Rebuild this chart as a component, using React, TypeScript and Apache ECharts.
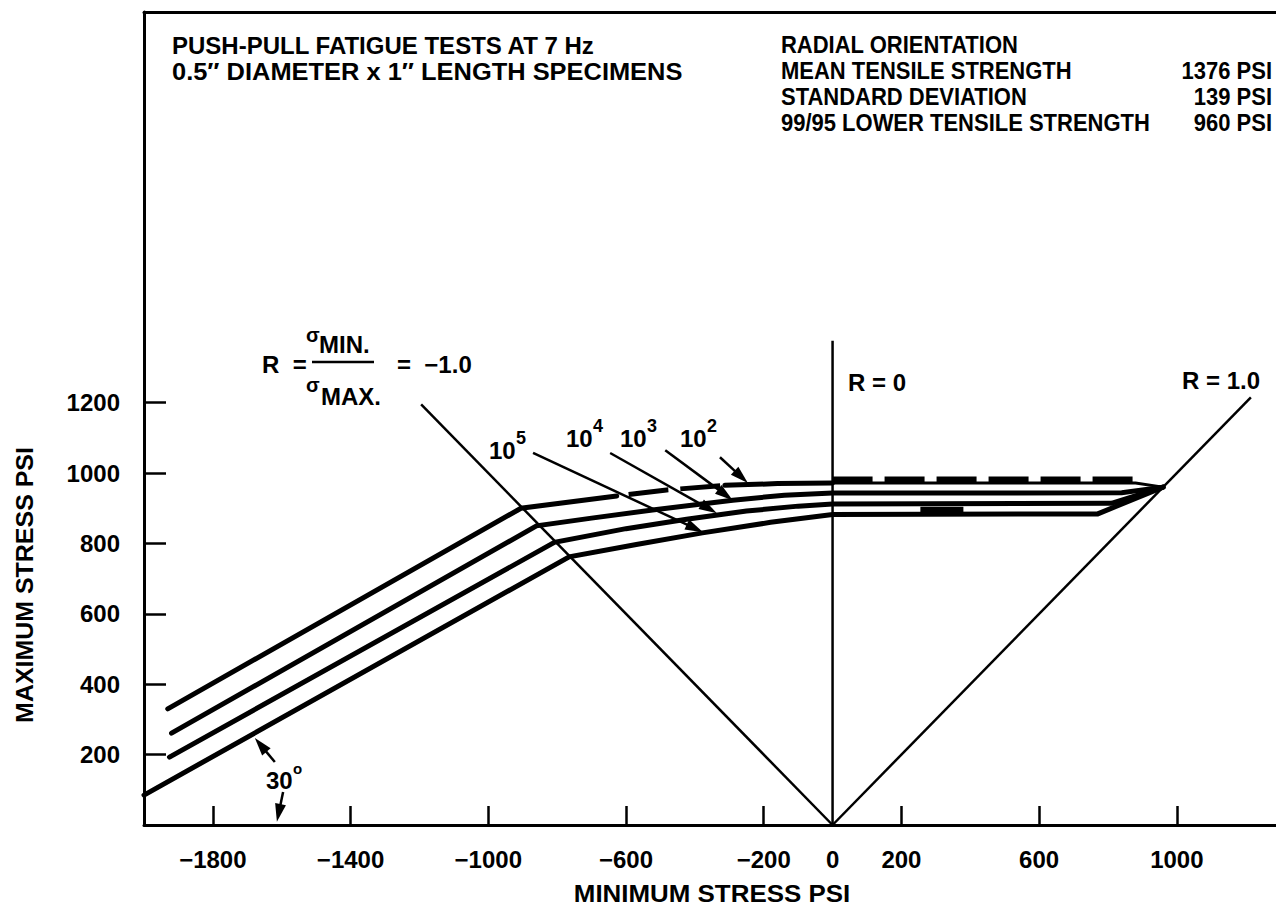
import { useEffect, useRef } from "react";
import * as echarts from "echarts";

const FONT = "'Liberation Sans', Arial, Helvetica, sans-serif";

// Axis label / tick positions (psi)
const X_LABEL_VALUES = [-1800, -1400, -1000, -600, -200, 0, 200, 600, 1000];
const X_TICK_VALUES = [-1800, -1400, -1000, -600, -200, 200, 600, 1000];
const Y_LABEL_VALUES = [200, 400, 600, 800, 1000, 1200];

// Constant-life curves: [minimum stress, maximum stress] in psi.
// All four close on the R = 1.0 line at the 99/95 lower tensile strength.
const CURVE_1E2 = [[-1931, 330], [-905, 900], [-627, 935], [-482, 952], [-313, 965], [-160, 970], [0, 972], [880, 972], [960, 960]];
const CURVE_1E3 = [[-1920, 261], [-860, 850], [-700, 872], [-523, 895], [-290, 923], [-140, 937], [0, 943], [840, 944], [960, 960]];
const CURVE_1E4 = [[-1926, 193], [-808, 803], [-600, 842], [-424, 869], [-250, 892], [-100, 906], [0, 912], [810, 914], [960, 960]];
const CURVE_1E5 = [[-2000, 85], [-765, 762], [-570, 797], [-378, 830], [-180, 860], [0, 882], [770, 884], [960, 960]];
// heavy dashed trace riding on the 10^2 curve for positive minimum stress
const DASH_1E2 = [[0, 982], [900, 982]];
const SMEAR_1E5 = [[255, 893], [380, 893]];

// Stress-ratio lines
const R_MINUS_ONE = [[0, 0], [-1195, 1195]];
const R_ZERO = [[0, 0], [0, 1376]];
const R_ONE = [[0, 0], [1215, 1215]];

// Leader arrows: [fromX, fromY, toX, toY] in psi
const ARROWS = [
  [-870, 1057, -376, 832],
  [-646, 1057, -336, 886],
  [-486, 1065, -290, 923],
  [-327, 1045, -246, 972],
  [-1620, 179, -1678, 247],
  [-1596, 94, -1614, 9],
];

const HEADER_LEFT = ["PUSH-PULL FATIGUE TESTS AT 7 Hz", "0.5\u2033 DIAMETER x 1\u2033 LENGTH SPECIMENS"];
const HEADER_RIGHT = ["RADIAL ORIENTATION", "MEAN TENSILE STRENGTH", "STANDARD DEVIATION", "99/95 LOWER TENSILE STRENGTH"];
const HEADER_RIGHT_VALUES = ["", "1376 PSI", "139 PSI", "960 PSI"];
const LIFE_EXPONENTS = ["5", "4", "3", "2"];

function txt(x: number, y: number, text: string, size: number, extra: any = {}) {
  return {
    type: "text",
    x,
    y,
    silent: true,
    rotation: extra.rotation || 0,
    scaleX: extra.scaleX || 1,
    scaleY: extra.scaleY || 1,
    style: {
      text,
      fill: "#000",
      fontSize: size,
      fontWeight: "bold",
      fontFamily: FONT,
      align: extra.align || "left",
      verticalAlign: "middle",
    },
  };
}

function curveSeries(data: number[][], width: number, extra: any = {}) {
  return {
    type: "line",
    data,
    symbol: "none",
    silent: true,
    lineStyle: { color: "#000", width, cap: "round", join: "miter", ...extra },
    z: 3,
  };
}

export default function App() {
  const ref = useRef<HTMLDivElement>(null);

  useEffect(() => {
    if (!ref.current) return;
    const chart = echarts.init(ref.current, null, { renderer: "svg" });

    const lifePos = [
      [489, 450],
      [566, 438],
      [620, 438],
      [680, 438],
    ];

    const graphics: any[] = [];
    graphics.push(txt(172, 45, HEADER_LEFT[0], 24));
    graphics.push(txt(172, 72, HEADER_LEFT[1], 24, { scaleX: 1.06 }));
    HEADER_RIGHT.forEach((t, i) => graphics.push(txt(781, 45 + i * 26, t, 22, { scaleY: 1.08 })));
    HEADER_RIGHT_VALUES.forEach((t, i) => {
      if (t) graphics.push(txt(1272, 45 + i * 26, t, 22, { align: "right", scaleY: 1.08 }));
    });
    // R = sigma_min / sigma_max = -1.0
    graphics.push(txt(262, 364, "R  =", 24));
    graphics.push(txt(306, 335, "\u03c3", 20));
    graphics.push(txt(319, 344, "MIN.", 24));
    graphics.push({
      type: "line",
      silent: true,
      shape: { x1: 312, y1: 362, x2: 374, y2: 362 },
      style: { stroke: "#000", lineWidth: 2.5 },
    });
    graphics.push(txt(306, 385, "\u03c3", 20));
    graphics.push(txt(321, 396, "MAX.", 24));
    graphics.push(txt(397, 364, "=  \u22121.0", 24));
    graphics.push(txt(848, 382, "R = 0", 24));
    graphics.push(txt(1182, 380, "R = 1.0", 24));
    // cycles to failure labels
    LIFE_EXPONENTS.forEach((e, i) => {
      graphics.push(txt(lifePos[i][0], lifePos[i][1], "10", 24));
      graphics.push(txt(lifePos[i][0] + 27, lifePos[i][1] - 12, e, 18));
    });
    // angle label
    graphics.push(txt(266, 780, "30", 24));
    graphics.push(txt(293, 768, "o", 15));
    // axis titles
    graphics.push(txt(712, 893, "MINIMUM STRESS PSI", 24, { align: "center", scaleX: 1.08 }));
    graphics.push(txt(25, 585, "MAXIMUM STRESS PSI", 24, { align: "center", rotation: Math.PI / 2, scaleX: 1.04 }));

    const labelStyle = {
      color: "#000",
      fontSize: 24,
      fontWeight: "bold",
      fontFamily: FONT,
    };

    chart.setOption({
      animation: false,
      backgroundColor: "#fff",
      grid: { left: 144, top: 12, right: 0, bottom: 93, containLabel: false },
      xAxis: [
        {
          type: "value",
          min: -2000,
          max: 1288,
          position: "bottom",
          axisLine: { show: true, onZero: false, lineStyle: { color: "#000", width: 3 } },
          axisTick: {
            show: true,
            inside: true,
            length: 19,
            customValues: X_TICK_VALUES,
            lineStyle: { color: "#000", width: 2.5 },
          },
          axisLabel: {
            ...labelStyle,
            customValues: X_LABEL_VALUES,
            margin: 22,
            formatter: (v: number) => (v < 0 ? "\u2212" + Math.abs(v) : String(v)),
          },
          splitLine: { show: false },
        },
        {
          type: "value",
          min: -2000,
          max: 1288,
          position: "top",
          axisLine: { show: true, onZero: false, lineStyle: { color: "#000", width: 3 } },
          axisTick: { show: false },
          axisLabel: { show: false },
          splitLine: { show: false },
        },
      ],
      yAxis: {
        type: "value",
        min: 0,
        max: 2310,
        axisLine: { show: true, onZero: false, lineStyle: { color: "#000", width: 3 } },
        axisTick: {
          show: true,
          inside: true,
          length: 22,
          customValues: Y_LABEL_VALUES,
          lineStyle: { color: "#000", width: 2.5 },
        },
        axisLabel: {
          ...labelStyle,
          customValues: Y_LABEL_VALUES,
          margin: 24,
          formatter: (v: number) => String(v),
        },
        splitLine: { show: false },
      },
      graphic: graphics,
      series: [
        curveSeries(R_MINUS_ONE, 2.5, { cap: "butt" }),
        curveSeries(R_ZERO, 2.5, { cap: "butt" }),
        curveSeries(R_ONE, 2.5, { cap: "butt" }),
        curveSeries(CURVE_1E2.slice(0, 3), 5),
        curveSeries(CURVE_1E2.slice(2, 5), 5, { type: [40, 12], dashOffset: 40, cap: "butt" }),
        curveSeries(CURVE_1E2.slice(4, 7), 5),
        curveSeries(CURVE_1E2.slice(6), 3, { cap: "butt" }),
        curveSeries(DASH_1E2, 6, { type: [40, 12], dashOffset: 0, cap: "butt" }),
        curveSeries(CURVE_1E3, 5),
        curveSeries(CURVE_1E4, 5),
        curveSeries(CURVE_1E5, 5),
        curveSeries(SMEAR_1E5, 8, { cap: "butt" }),
        {
          type: "custom",
          coordinateSystem: "cartesian2d",
          data: ARROWS,
          silent: true,
          encode: { x: [0, 2], y: [1, 3] },
          z: 5,
          renderItem: (_params: any, api: any) => {
            const p1 = api.coord([api.value(0), api.value(1)]);
            const p2 = api.coord([api.value(2), api.value(3)]);
            const dx = p2[0] - p1[0];
            const dy = p2[1] - p1[1];
            const len = Math.hypot(dx, dy) || 1;
            const ux = dx / len;
            const uy = dy / len;
            const headLen = 18;
            const headW = 5.5;
            const bx = p2[0] - ux * headLen;
            const by = p2[1] - uy * headLen;
            return {
              type: "group",
              children: [
                {
                  type: "line",
                  shape: { x1: p1[0], y1: p1[1], x2: bx + ux * 2, y2: by + uy * 2 },
                  style: { stroke: "#000", lineWidth: 2.5 },
                },
                {
                  type: "polygon",
                  shape: {
                    points: [
                      [p2[0], p2[1]],
                      [bx - uy * headW, by + ux * headW],
                      [bx + uy * headW, by - ux * headW],
                    ],
                  },
                  style: { fill: "#000" },
                },
              ],
            };
          },
        },
      ],
    });

    return () => chart.dispose();
  }, []);

  return (
    <div
      ref={ref}
      style={{ position: "absolute", left: 0, top: 0, width: 1276, height: 918, background: "#fff" }}
    />
  );
}
